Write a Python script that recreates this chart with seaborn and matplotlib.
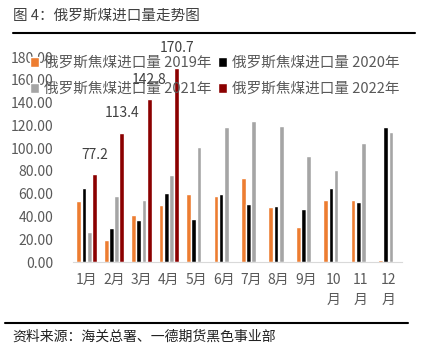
import numpy as np
import pandas as pd
import seaborn as sns
import matplotlib.pyplot as plt

# 数据
months = ['1月', '2月', '3月', '4月', '5月', '6月', '7月', '8月', '9月', '10\n月', '11\n月', '12\n月']
series = ['俄罗斯焦煤进口量 2019年', '俄罗斯焦煤进口量 2020年',
          '俄罗斯焦煤进口量 2021年', '俄罗斯焦煤进口量 2022年']
y2019 = [53.4, 19.1, 41.7, 50.5, 59.6, 57.8, 73.7, 48.2, 30.5, 54.3, 54.6, 1.5]
y2020 = [64.9, 30.2, 36.7, 60.8, 37.6, 60.2, 51.4, 49.0, 47.0, 65.2, 52.6, 118.3]
y2021 = [26.1, 57.8, 54.9, 76.3, 101.0, 118.6, 123.9, 119.5, 93.1, 80.7, 104.8, 114.2]
y2022 = [77.2, 113.4, 142.8, 170.7] + [np.nan] * 8
colors = ['#ED7D31', '#000000', '#A5A5A5', '#8B0000']

df = pd.DataFrame({
    '月份': months * 4,
    '系列': np.repeat(series, 12),
    '进口量': y2019 + y2020 + y2021 + y2022,
})

sns.set_style('white')
plt.rcParams['font.family'] = ['Noto Sans CJK SC', 'DejaVu Sans']

fig = plt.figure(figsize=(4.21, 3.5), dpi=100)
ax = fig.add_axes([0.173, 0.251, 0.782, 0.586])

sns.barplot(data=df, x='月份', y='进口量', hue='系列', hue_order=series,
            palette=colors, width=0.76, gap=0.1, order=months,
            saturation=1, ax=ax, legend=True)

# 2022 数据标签
labels = [f'{v:.1f}' for v in y2022 if not np.isnan(v)]
ax.bar_label(ax.containers[3], labels=labels, padding=9, fontsize=10,
             color='#404040', clip_on=False)

ax.set_ylim(0, 180)
ax.set_yticks(np.arange(0, 181, 20))
ax.set_yticklabels([f'{v:.2f}' for v in np.arange(0, 181, 20)])
ax.set_xlim(-0.5, 11.5)
ax.set_xlabel('')
ax.set_ylabel('')
ax.tick_params(axis='y', length=0, labelsize=10, labelcolor='#595959', pad=14)
ax.tick_params(axis='x', which='major', length=0, labelsize=10,
               labelcolor='#595959', pad=8)
for t in ax.get_xticklabels():
    t.set_linespacing(1.5)
ax.set_xticks(np.arange(-0.5, 12, 1), minor=True)
ax.tick_params(axis='x', which='minor', length=4, color='#D9D9D9', direction='out')
for s in ['top', 'right', 'left']:
    ax.spines[s].set_visible(False)
ax.spines['bottom'].set_color('#D9D9D9')

# 图例按行排列：2019, 2020 / 2021, 2022
handles, labs = ax.get_legend_handles_labels()
ax.get_legend().remove()
idx = [0, 2, 1, 3]
fig.legend([handles[i] for i in idx], [labs[i] for i in idx], ncol=2,
           loc='upper left', bbox_to_anchor=(0.04, 0.878), frameon=False,
           fontsize=10.5, handlelength=0.65, handleheight=0.65,
           handletextpad=0.3, columnspacing=0.45, labelspacing=0.85,
           labelcolor='#595959')

# 标题和来源
fig.text(0.03, 0.955, '图 4：俄罗斯煤进口量走势图', fontsize=10.5,
         color='#404040', va='center')
fig.add_artist(plt.Line2D([0.03, 0.985], [0.905, 0.905], color='black', lw=1.5))
fig.add_artist(plt.Line2D([0.012, 0.97], [0.078, 0.078], color='black', lw=1.5))
fig.text(0.03, 0.037, '资料来源：海关总署、一德期货黑色事业部', fontsize=10,
         color='#222222', va='center')

fig.savefig('out.png', dpi=100)
